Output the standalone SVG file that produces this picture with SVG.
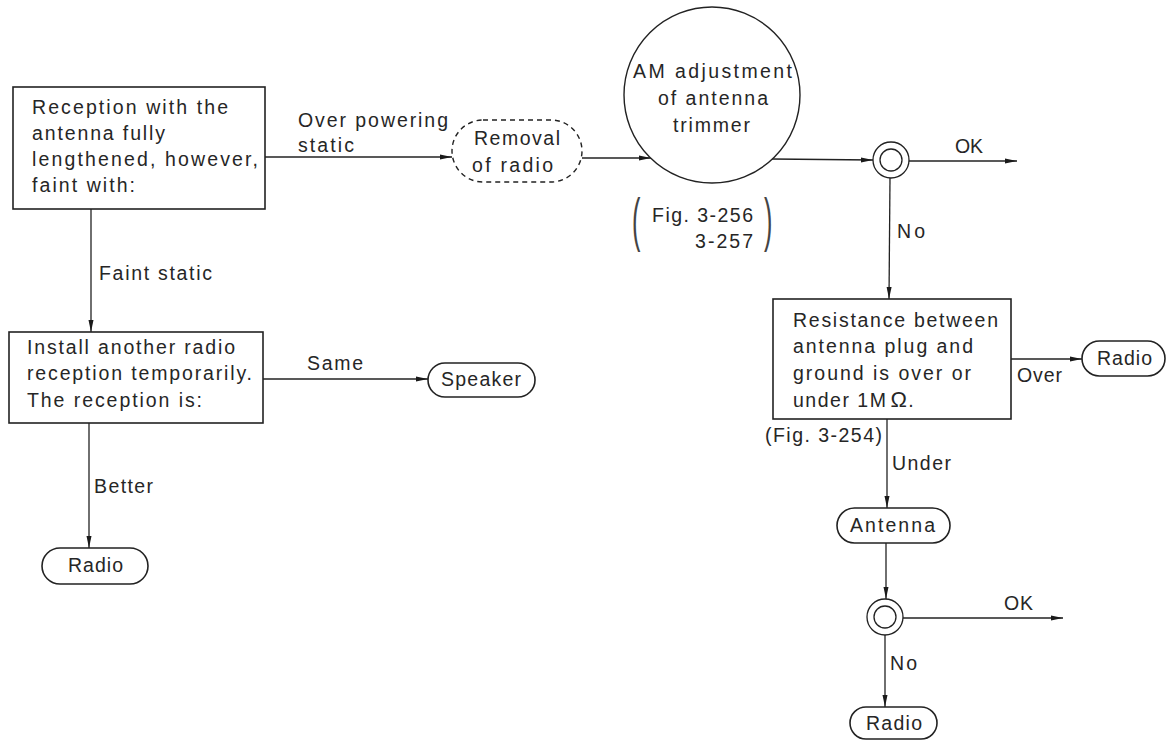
<svg xmlns="http://www.w3.org/2000/svg" width="1175" height="740" viewBox="0 0 1175 740">
<defs>
<marker id="arr" markerUnits="userSpaceOnUse" markerWidth="13" markerHeight="6" refX="12" refY="3" orient="auto">
<path d="M0,0.5 L12,3 L0,5.5 z" fill="#1a1a1a"/>
</marker>
<style>
.t{font-family:"Liberation Sans",Arial,sans-serif;font-size:19.5px;fill:#262626}
.b{fill:#fff;stroke:#222;stroke-width:1.6}
.c{fill:none;stroke:#222;stroke-width:1.3}
.ln{fill:none;stroke:#222;stroke-width:1.3;marker-end:url(#arr)}
.par{font-family:"Liberation Sans",Arial,sans-serif;font-size:60px;fill:#444}
</style>
</defs>
<rect width="1175" height="740" fill="#fff"/>

<g id="connectors">
<line class="ln" x1="265" y1="157" x2="452" y2="157"/>
<line class="ln" x1="582" y1="158" x2="651" y2="158"/>
<line class="ln" x1="772" y1="159" x2="873" y2="160"/>
<line class="ln" x1="909" y1="161" x2="1017" y2="161"/>
<line class="ln" x1="890" y1="178" x2="889" y2="299"/>
<line class="ln" x1="91" y1="209" x2="91" y2="332"/>
<line class="ln" x1="263" y1="379" x2="428" y2="379"/>
<line class="ln" x1="89" y1="423" x2="89" y2="548"/>
<line class="ln" x1="1011" y1="359" x2="1082" y2="359"/>
<line class="ln" x1="887" y1="419" x2="887" y2="508"/>
<line class="ln" x1="886" y1="543" x2="886" y2="599"/>
<line class="ln" x1="903" y1="618" x2="1063" y2="618"/>
<line class="ln" x1="885" y1="635" x2="885" y2="707"/>
<text class="t" x="298" y="127" textLength="150" lengthAdjust="spacing">Over powering</text>
<text class="t" x="298" y="152" textLength="56" lengthAdjust="spacing">static</text>
<text class="t" x="99" y="280" textLength="113" lengthAdjust="spacing">Faint static</text>
<text class="t" x="307" y="370" textLength="56" lengthAdjust="spacing">Same</text>
<text class="t" x="94" y="493" textLength="59" lengthAdjust="spacing">Better</text>
<text class="t" x="955" y="153" textLength="28" lengthAdjust="spacing">OK</text>
<text class="t" x="897" y="238" textLength="28" lengthAdjust="spacing">No</text>
<text class="t" x="1017" y="382" textLength="45" lengthAdjust="spacing">Over</text>
<text class="t" x="892" y="470" textLength="59" lengthAdjust="spacing">Under</text>
<text class="t" x="1004" y="610" textLength="29" lengthAdjust="spacing">OK</text>
<text class="t" x="890" y="670" textLength="27" lengthAdjust="spacing">No</text>
</g>

<g id="n-reception">
<rect class="b" x="13" y="87" width="252" height="122"/>
<text class="t" x="32" y="114" textLength="196" lengthAdjust="spacing">Reception with the</text>
<text class="t" x="32" y="140" textLength="133" lengthAdjust="spacing">antenna fully</text>
<text class="t" x="32" y="166" textLength="226" lengthAdjust="spacing">lengthened, however,</text>
<text class="t" x="32" y="192" textLength="103" lengthAdjust="spacing">faint with:</text>
</g>

<g id="n-removal">
<rect x="452" y="120" width="130" height="62" rx="31" ry="31" fill="#fff" stroke="#222" stroke-width="1.4" stroke-dasharray="5,4"/>
<text class="t" x="474" y="145" textLength="86" lengthAdjust="spacing">Removal</text>
<text class="t" x="472" y="172" textLength="81" lengthAdjust="spacing">of radio</text>
</g>

<g id="n-am-adjust">
<circle cx="712" cy="95" r="88" fill="#fff" stroke="#222" stroke-width="1.4"/>
<text class="t" x="633" y="78" textLength="159" lengthAdjust="spacing">AM adjustment</text>
<text class="t" x="658" y="105" textLength="110" lengthAdjust="spacing">of antenna</text>
<text class="t" x="673" y="132" textLength="77" lengthAdjust="spacing">trimmer</text>
</g>

<g id="n-fig256">
<text class="par" transform="translate(632,240) scale(0.42,1)">(</text>
<text class="par" transform="translate(764,240) scale(0.42,1)">)</text>
<text class="t" x="652" y="222" textLength="101" lengthAdjust="spacing">Fig. 3-256</text>
<text class="t" x="695" y="248" textLength="58" lengthAdjust="spacing">3-257</text>
</g>

<g id="n-check1">
<circle class="c" cx="891" cy="160" r="18"/>
<circle class="c" cx="891" cy="160" r="11"/>
</g>

<g id="n-install">
<rect class="b" x="9" y="332" width="254" height="91"/>
<text class="t" x="27" y="354" textLength="208" lengthAdjust="spacing">Install another radio</text>
<text class="t" x="27" y="380" textLength="225" lengthAdjust="spacing">reception temporarily.</text>
<text class="t" x="27" y="407" textLength="175" lengthAdjust="spacing">The reception is:</text>
</g>

<g id="n-speaker">
<rect class="b" x="428" y="363" width="107" height="34" rx="17" ry="17"/>
<text class="t" x="441" y="386" textLength="80" lengthAdjust="spacing">Speaker</text>
</g>

<g id="n-radio-left">
<rect class="b" x="42" y="548" width="106" height="36" rx="18" ry="18"/>
<text class="t" x="68" y="572" textLength="55" lengthAdjust="spacing">Radio</text>
</g>

<g id="n-resistance">
<rect class="b" x="773" y="299" width="238" height="120"/>
<text class="t" x="793" y="327" textLength="205" lengthAdjust="spacing">Resistance between</text>
<text class="t" x="793" y="353" textLength="180" lengthAdjust="spacing">antenna plug and</text>
<text class="t" x="793" y="380" textLength="178" lengthAdjust="spacing">ground is over or</text>
<text class="t" x="793" y="407" letter-spacing="1.5">under 1M<tspan font-size="22" dx="3">Ω</tspan>.</text>
<text class="t" x="765" y="442" textLength="117" lengthAdjust="spacing">(Fig. 3-254)</text>
</g>

<g id="n-radio-right">
<rect class="b" x="1082" y="341" width="83" height="35" rx="17.5" ry="17.5"/>
<text class="t" x="1097" y="365" textLength="55" lengthAdjust="spacing">Radio</text>
</g>

<g id="n-antenna">
<rect class="b" x="837" y="508" width="113" height="35" rx="17.5" ry="17.5"/>
<text class="t" x="850" y="532" textLength="85" lengthAdjust="spacing">Antenna</text>
</g>

<g id="n-check2">
<circle class="c" cx="885" cy="617" r="18"/>
<circle class="c" cx="885" cy="617" r="11"/>
</g>

<g id="n-radio-bottom">
<rect class="b" x="850" y="707" width="87" height="32" rx="16" ry="16"/>
<text class="t" x="866" y="730" textLength="56" lengthAdjust="spacing">Radio</text>
</g>
</svg>
